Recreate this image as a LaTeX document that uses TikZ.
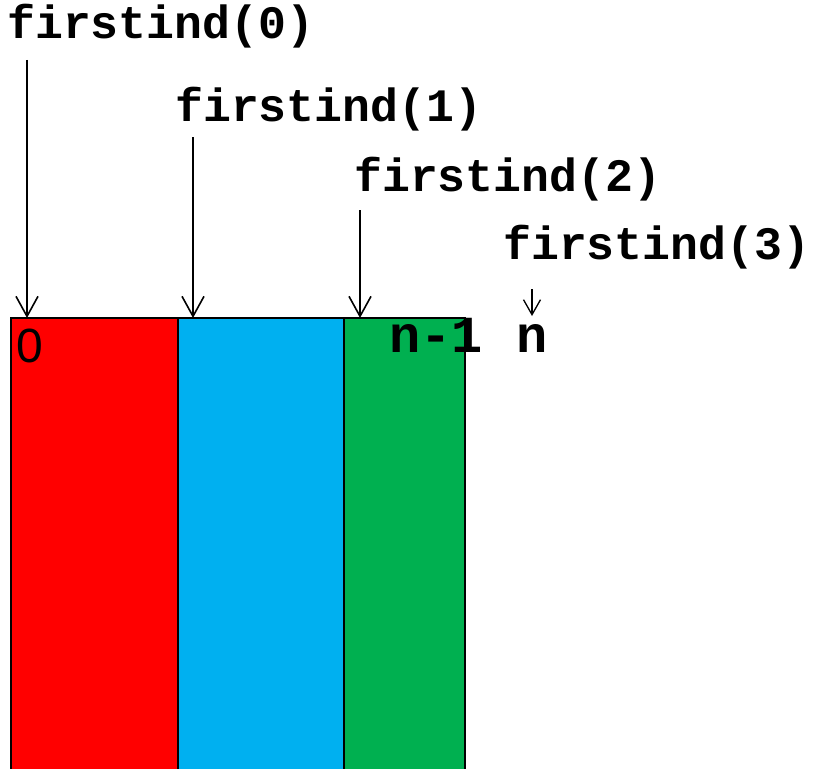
\documentclass[tikz,border=0pt]{standalone}
\usepackage{fontspec}
\setmainfont{Liberation Sans}
\newfontfamily\cmono{Liberation Mono}
\usetikzlibrary{arrows.meta}
\definecolor{cred}{HTML}{FF0000}
\definecolor{cblue}{HTML}{00B0F0}
\definecolor{cgreen}{HTML}{00B050}
\tikzset{
  lab/.style={inner sep=0pt, anchor=base west, font=\cmono\bfseries\fontsize{46.5}{52}\selectfont},
  idx/.style={inner sep=0pt, anchor=base west, font=\cmono\bfseries\fontsize{52}{56}\selectfont},
  blk/.style={draw=black, line width=1.5pt},
  ptr/.style={line width=1.6pt, -{Straight Barb[length=20pt,width=22pt,line width=1.6pt]}},
  ptrs/.style={line width=1.3pt, -{Straight Barb[length=15pt,width=17pt,line width=1.3pt]}}
}
\begin{document}
\begin{tikzpicture}[x=1pt,y=-1pt]
\useasboundingbox (0,0) rectangle (813,768);
\begin{scope}
\clip (0,0) rectangle (813,768);
\path[blk, fill=cred] (11,318) rectangle (178,790);
\path[blk, fill=cblue] (178,318) rectangle (344,790);
\path[blk, fill=cgreen] (344,318) rectangle (465,790);
\end{scope}
\node[lab] (l0) at (7,38) {firstind(0)};
\node[lab] (l1) at (175,121) {firstind(1)};
\node[lab] (l2) at (354,191) {firstind(2)};
\node[lab] (l3) at (503,259) {firstind(3)};
\node[inner sep=0pt, anchor=base west, font=\fontsize{48}{52}\selectfont] (z) at (16,362) {0};
\node[idx] (nm) at (389,352) {n-1};
\node[idx] (n) at (516,352) {n};
\coordinate (s0) at (27,60);  \coordinate (e0) at (27,318);
\coordinate (s1) at (193,137); \coordinate (e1) at (193,318);
\coordinate (s2) at (360,210); \coordinate (e2) at (360,318);
\coordinate (s3) at (532,289); \coordinate (e3) at (532,316);
\draw[ptr] (s0) -- (e0);
\draw[ptr] (s1) -- (e1);
\draw[ptr] (s2) -- (e2);
\draw[ptrs] (s3) -- (e3);
\end{tikzpicture}
\end{document}
